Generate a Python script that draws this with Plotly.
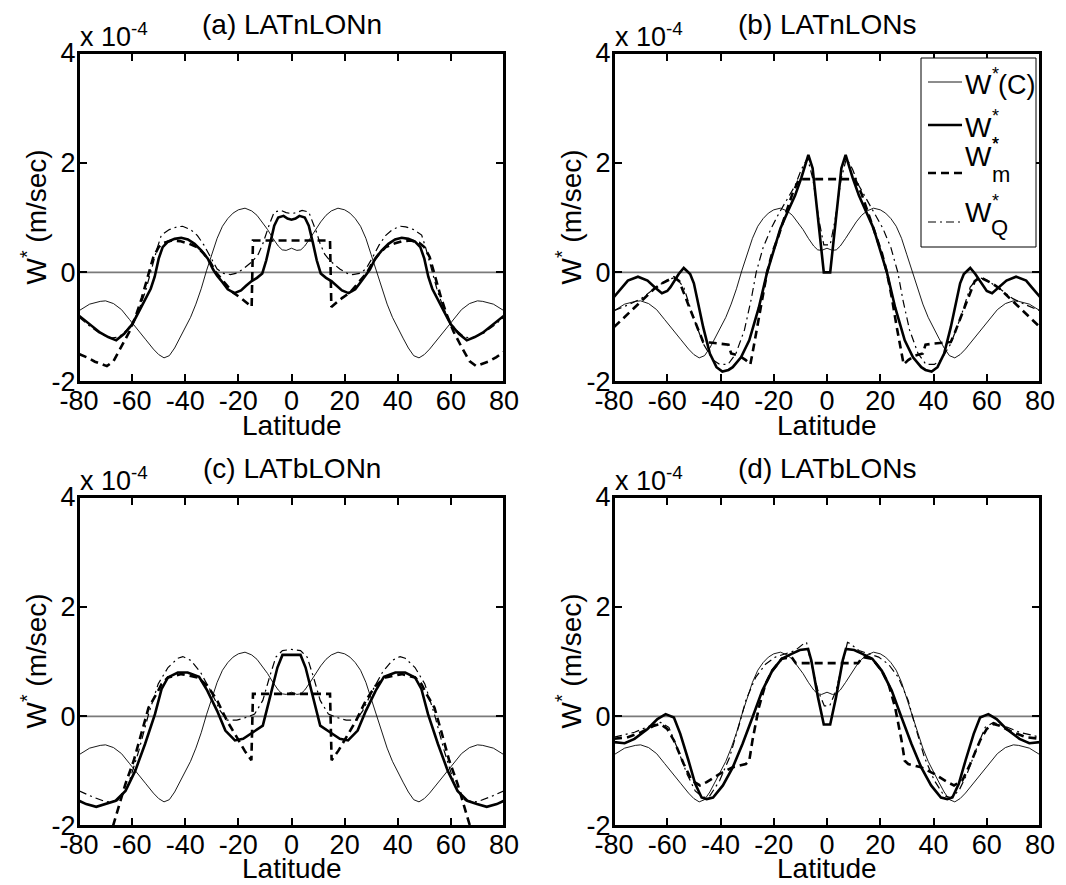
import plotly.graph_objects as go

# ---------------------------------------------------------------- data
# latitude axis ticks
LAT_TICKS = [-80, -60, -40, -20, 0, 20, 40, 60, 80]
LAT_TICK_TEXT = ["-80", "-60", "-40", "-20", "0", "20", "40", "60", "80"]
# vertical velocity ticks (units of 1e-4 m/s)
W_TICKS = [-2, 0, 2, 4]
W_TICK_TEXT = ["-2", "0", "2", "4"]

PANEL_TITLES = ["(a) LATnLONn", "(b) LATnLONs", "(c) LATbLONn", "(d) LATbLONs"]

# W*(C): reference profile, identical in all four experiments
WC_LAT = [-80, -76, -72, -70, -67, -64, -61, -58, -55, -52, -50, -48, -46, -44, -42, -40, -38, -36,
          -34, -32, -30, -28, -26, -24, -22, -20, -17.5, -15, -13, -11, -9, -7, -5, -3.5, -2, 0,
          2, 3.5, 5, 7, 9, 11, 13, 15, 17.5, 20, 22, 24, 26, 28, 30, 32, 34, 36, 38, 40, 42, 44,
          46, 48, 50, 52, 55, 58, 61, 64, 67, 70, 72, 76, 80]
WC_VAL = [-0.70, -0.58, -0.53, -0.52, -0.57, -0.68, -0.86, -1.03, -1.22, -1.40, -1.50, -1.56, -1.52,
          -1.38, -1.20, -1.02, -0.82, -0.58, -0.30, 0.03, 0.32, 0.62, 0.84, 0.98, 1.08, 1.14, 1.17,
          1.12, 1.04, 0.92, 0.78, 0.62, 0.48, 0.41, 0.40, 0.44,
          0.40, 0.41, 0.48, 0.62, 0.78, 0.92, 1.04, 1.12, 1.17, 1.14, 1.08, 0.98, 0.84, 0.62, 0.32,
          0.03, -0.30, -0.58, -0.82, -1.02, -1.20, -1.38, -1.52, -1.56, -1.50, -1.40, -1.22, -1.03,
          -0.86, -0.68, -0.57, -0.52, -0.53, -0.58, -0.70]

# (a) LATnLONn
A_WSTAR_LAT = [-80, -76, -72, -69, -66, -63, -60, -57.5, -55, -53, -51.5, -50, -48.5, -46.5, -44,
               -41.5, -39, -36.5, -34, -31.5, -29.5, -28, -26, -24, -21.5, -19, -17, -15, -13, -11,
               -9.5, -8, -6.5, -5, -3, -1.5, 0,
               1.5, 3, 5, 6.5, 8, 9.5, 11, 13, 15, 17, 19, 21.5, 24, 26, 28, 29.5, 31.5, 34, 36.5,
               39, 41.5, 44, 46.5, 48.5, 50, 51.5, 53, 55, 57.5, 60, 63, 66, 69, 72, 76, 80]
A_WSTAR_VAL = [-0.79, -0.95, -1.10, -1.18, -1.24, -1.12, -0.95, -0.72, -0.50, -0.30, -0.08, 0.25,
               0.46, 0.56, 0.61, 0.63, 0.60, 0.52, 0.40, 0.25, 0.05, -0.06, -0.18, -0.31, -0.38,
               -0.33, -0.24, -0.16, -0.10, -0.02, 0.22, 0.55, 0.85, 1.00, 1.03, 0.98, 0.96,
               0.98, 1.03, 1.00, 0.85, 0.55, 0.22, -0.02, -0.10, -0.16, -0.24, -0.33, -0.38, -0.31,
               -0.18, -0.06, 0.05, 0.25, 0.40, 0.52, 0.60, 0.63, 0.61, 0.56, 0.46, 0.25, -0.08,
               -0.30, -0.50, -0.72, -0.95, -1.12, -1.24, -1.18, -1.10, -0.95, -0.79]
A_WM_LAT = [-80, -77, -74, -71, -69.5, -67, -64, -61, -58.5, -56.3, -54, -52, -50, -48, -45, -42,
            -39, -35.5, -33, -30.5, -28.5, -26.5, -24, -22, -19, -16.5, -15, -14.5,
            14.5, 15, 16.5, 19, 22, 24, 26.5, 28.5, 30.5, 33, 35.5, 39, 42, 45, 48, 50, 52, 54,
            56.3, 58.5, 61, 64, 67, 69.5, 71, 74, 77, 80]
A_WM_VAL = [-1.49, -1.55, -1.63, -1.68, -1.71, -1.62, -1.36, -1.08, -0.78, -0.46, -0.06, 0.28, 0.46,
            0.54, 0.58, 0.57, 0.53, 0.46, 0.34, 0.18, 0.0, -0.12, -0.26, -0.37, -0.47, -0.57,
            -0.63, 0.58,
            0.58, -0.63, -0.57, -0.47, -0.37, -0.26, -0.12, 0.0, 0.18, 0.34, 0.46, 0.53, 0.57,
            0.58, 0.54, 0.46, 0.28, -0.06, -0.46, -0.78, -1.08, -1.36, -1.62, -1.71, -1.68,
            -1.63, -1.55, -1.45]
A_WQ_LAT = [-80, -76, -72, -68, -65, -62, -59.5, -57, -55, -52.6, -50.5, -49, -46, -43, -41, -38,
            -35.4, -33, -30.5, -28, -25.6, -23, -21, -18.2, -14.5, -12.5, -10.8, -9.5, -8.3, -6.5,
            -4, -2, 0,
            2, 4, 6.5, 8.3, 9.5, 10.8, 12.5, 14.5, 18.2, 21, 23, 25.6, 28, 30.5, 33, 35.4, 38,
            41, 43, 46, 49, 50.5, 52.6, 55, 57, 59.5, 62, 65, 68, 72, 76, 80]
A_WQ_VAL = [-0.82, -0.98, -1.12, -1.20, -1.18, -1.05, -0.90, -0.62, -0.35, 0.09, 0.45, 0.68, 0.78,
            0.83, 0.84, 0.78, 0.67, 0.50, 0.27, 0.06, -0.02, -0.04, -0.02, 0.06, 0.21, 0.33, 0.52,
            0.72, 0.88, 1.10, 1.13, 1.09, 1.07,
            1.09, 1.13, 1.10, 0.88, 0.72, 0.52, 0.33, 0.21, 0.06, -0.02, -0.04, -0.02, 0.06, 0.27,
            0.50, 0.67, 0.78, 0.84, 0.83, 0.78, 0.68, 0.45, 0.09, -0.35, -0.62, -0.90, -1.05,
            -1.18, -1.20, -1.12, -0.98, -0.82]

# (b) LATnLONs
B_WSTAR_LAT = [-80, -77, -74.8, -71, -67.4, -64.5, -62, -60, -58.8, -55.7, -53.8, -51.4, -50, -48.9,
               -46.5, -44, -41.5, -39.3, -37, -35.4, -32.3, -29.2, -27.5, -25.6, -22.5, -20, -17.5,
               -14.8, -12, -9.6, -7, -5.4, -1.2,
               1.2, 5.4, 7, 9.6, 12, 14.8, 17.5, 20, 22.5, 25.6, 27.5, 29.2, 32.3, 35.4, 37, 39.3,
               41.5, 44, 46.5, 48.9, 50, 51.4, 53.8, 55.7, 58.8, 60, 62, 64.5, 67.4, 71, 74.8,
               77, 80]
B_WSTAR_VAL = [-0.45, -0.28, -0.15, -0.08, -0.15, -0.28, -0.38, -0.34, -0.27, -0.03, 0.08, -0.03,
               -0.20, -0.45, -1.00, -1.48, -1.73, -1.81, -1.78, -1.73, -1.55, -1.24, -0.95, -0.64,
               0.0, 0.40, 0.80, 1.10, 1.40, 1.73, 2.14, 1.90, 0.0,
               0.0, 1.90, 2.14, 1.73, 1.40, 1.10, 0.80, 0.40, 0.0, -0.64, -0.95, -1.24, -1.55,
               -1.73, -1.78, -1.81, -1.73, -1.48, -1.00, -0.45, -0.20, -0.03, 0.08, -0.03, -0.27,
               -0.34, -0.38, -0.28, -0.15, -0.08, -0.15, -0.28, -0.45]
B_WM_LAT = [-80, -77, -74.8, -72, -69.8, -67, -64.9, -62, -60, -57.5, -55.5, -53.8, -52, -50.2, -48,
            -46.5, -44, -40, -37, -36, -33, -30.5, -28.8, -28, -26.2, -24.3, -22.5, -20.6, -18.5,
            -15.5, -13, -10.5,
            10.5, 13, 15.5, 18.5, 20.6, 22.5, 24.3, 26.2, 28, 28.8, 30.5, 33, 36, 37, 40, 44,
            46.5, 48, 50.2, 52, 53.8, 55.5, 57.5, 60, 62, 64.9, 67, 69.8, 72, 74.8, 77, 80]
B_WM_VAL = [-1.0, -0.86, -0.76, -0.62, -0.52, -0.40, -0.30, -0.20, -0.15, -0.09, -0.16, -0.39, -0.60,
            -0.82, -1.10, -1.27, -1.28, -1.30, -1.32, -1.48, -1.52, -1.60, -1.68, -1.48, -1.0,
            -0.45, 0.0, 0.35, 0.62, 1.07, 1.43, 1.70,
            1.70, 1.43, 1.07, 0.62, 0.35, 0.0, -0.45, -1.0, -1.48, -1.68, -1.60, -1.52, -1.48,
            -1.32, -1.30, -1.28, -1.27, -1.10, -0.82, -0.60, -0.39, -0.16, -0.09, -0.15, -0.20,
            -0.30, -0.40, -0.52, -0.62, -0.76, -0.86, -1.0]
B_WQ_LAT = [-80, -75, -69.8, -64.9, -60, -56.9, -53.8, -50.2, -46.5, -42.8, -40.3, -37.2, -34.2, -31,
            -28.5, -26.6, -24, -21, -18, -14.5, -12, -9.6, -7.3, -5.3, -3, -1.2, 0,
            1.2, 3, 5.3, 7.3, 9.6, 12, 14.5, 18, 21, 24, 26.6, 28.5, 31, 34.2, 37.2, 40.3, 42.8,
            46.5, 50.2, 53.8, 56.9, 60, 64.9, 69.8, 75, 80]
B_WQ_VAL = [-0.70, -0.60, -0.48, -0.30, -0.14, -0.09, -0.27, -0.82, -1.30, -1.60, -1.68, -1.68,
            -1.48, -1.05, -0.50, 0.0, 0.45, 0.80, 1.08, 1.36, 1.58, 1.88, 2.08, 1.70, 0.95, 0.50,
            0.50,
            0.50, 0.95, 1.70, 2.08, 1.88, 1.58, 1.36, 1.08, 0.80, 0.45, 0.0, -0.50, -1.05, -1.48,
            -1.68, -1.68, -1.60, -1.30, -0.82, -0.27, -0.09, -0.14, -0.30, -0.48, -0.60, -0.70]

# (c) LATbLONn
C_WSTAR_LAT = [-80, -77.3, -73.5, -69.8, -66.2, -62.5, -58.8, -55.1, -51.4, -48.9, -46.5, -42.8,
               -39.1, -34.8, -31.7, -28, -24.9, -21.3, -18.2, -14.5, -10.8, -8.4, -5.3, -3.4, 0,
               3.4, 5.3, 8.4, 10.8, 14.5, 18.2, 21.3, 24.9, 28, 31.7, 34.8, 39.1, 42.8, 46.5,
               48.9, 51.4, 55.1, 58.8, 62.5, 66.2, 69.8, 73.5, 77.3, 80]
C_WSTAR_VAL = [-1.54, -1.60, -1.65, -1.60, -1.54, -1.36, -0.99, -0.50, 0.04, 0.50, 0.71, 0.80, 0.80,
               0.72, 0.47, 0.10, -0.26, -0.44, -0.41, -0.29, -0.17, 0.29, 0.89, 1.12, 1.12,
               1.12, 0.89, 0.29, -0.17, -0.29, -0.41, -0.44, -0.26, 0.10, 0.47, 0.72, 0.80, 0.80,
               0.71, 0.50, 0.04, -0.50, -0.99, -1.36, -1.54, -1.60, -1.65, -1.60, -1.54]
C_WM_LAT = [-67.2, -64.9, -62.5, -59.4, -56.3, -53.8, -50.8, -48.9, -46.5, -41.5, -35.4, -31.7, -28,
            -24.3, -20.6, -17.6, -15.1, -14.5,
            14.5, 15.1, 17.6, 20.6, 24.3, 28, 31.7, 35.4, 41.5, 46.5, 48.9, 50.8, 53.8, 56.3,
            59.4, 62.5, 64.9, 67.2]
C_WM_VAL = [-2.0, -1.6, -1.23, -0.81, -0.26, 0.16, 0.41, 0.59, 0.71, 0.77, 0.71, 0.56, 0.29, -0.08,
            -0.38, -0.63, -0.80, 0.41,
            0.41, -0.80, -0.63, -0.38, -0.08, 0.29, 0.56, 0.71, 0.77, 0.71, 0.59, 0.41, 0.16,
            -0.26, -0.81, -1.23, -1.6, -2.0]
C_WQ_LAT = [-80, -74.8, -69.8, -65.5, -61.8, -57.5, -53.8, -50.2, -46.5, -42.8, -40.9, -37.9, -34.2,
            -30.5, -26.8, -24.3, -20.6, -17, -13.9, -10.8, -8.3, -5.9, -3.4, 0,
            3.4, 5.9, 8.3, 10.8, 13.9, 17, 20.6, 24.3, 26.8, 30.5, 34.2, 37.9, 40.9, 42.8, 46.5,
            50.2, 53.8, 57.5, 61.8, 65.5, 69.8, 74.8, 80]
C_WQ_VAL = [-1.36, -1.47, -1.56, -1.54, -1.30, -0.63, 0.04, 0.59, 0.89, 1.06, 1.09, 1.02, 0.80, 0.47,
            0.10, -0.07, -0.07, -0.02, 0.04, 0.29, 0.71, 1.08, 1.20, 1.22,
            1.20, 1.08, 0.71, 0.29, 0.04, -0.02, -0.07, -0.07, 0.10, 0.47, 0.80, 1.02, 1.09,
            1.06, 0.89, 0.59, 0.04, -0.63, -1.30, -1.54, -1.56, -1.47, -1.36]

# (d) LATbLONs
D_WSTAR_LAT = [-80, -76, -72.3, -67.4, -63.7, -60.6, -57.5, -55.1, -52, -49.5, -47.1, -45.2, -42.8,
               -39.1, -35.4, -31.7, -28, -24.3, -20.6, -17, -13.3, -10.2, -7.1, -5.9, -3.4, -1.2, 0,
               1.2, 3.4, 5.9, 7.1, 10.2, 13.3, 17, 20.6, 24.3, 28, 31.7, 35.4, 39.1, 42.8, 45.2,
               47.1, 49.5, 52, 55.1, 57.5, 60.6, 63.7, 67.4, 72.3, 76, 80]
D_WSTAR_VAL = [-0.47, -0.49, -0.41, -0.23, -0.05, 0.04, -0.02, -0.32, -0.81, -1.23, -1.48, -1.51,
               -1.48, -1.26, -0.93, -0.50, -0.02, 0.47, 0.83, 1.05, 1.14, 1.21, 1.23, 1.02, 0.35,
               -0.15, -0.15,
               -0.15, 0.35, 1.02, 1.23, 1.21, 1.14, 1.05, 0.83, 0.47, -0.02, -0.50, -0.93, -1.26,
               -1.48, -1.51, -1.48, -1.23, -0.81, -0.32, -0.02, 0.04, -0.05, -0.23, -0.41, -0.49,
               -0.47]
D_WM_LAT = [-80, -74.8, -69.8, -64.9, -62.5, -60, -57.5, -53.8, -50.8, -47.7, -45.2, -40.3, -35.4,
            -30.5, -29.2, -28, -25.6, -23.1, -20.6, -17, -13.3, -11.7,
            11.7, 13.3, 17, 20.6, 23.1, 25.6, 28, 29.2, 30.5, 35.4, 40.3, 45.2, 47.7, 50.8, 53.8,
            57.5, 60, 62.5, 64.9, 69.8, 74.8, 80]
D_WM_VAL = [-0.41, -0.38, -0.29, -0.17, -0.14, -0.23, -0.44, -0.87, -1.17, -1.26, -1.20, -1.05, -0.93,
            -0.87, -0.81, -0.44, 0.16, 0.59, 0.83, 1.05, 1.08, 0.97,
            0.97, 1.08, 1.05, 0.83, 0.59, 0.16, -0.44, -0.81, -0.87, -0.93, -1.05, -1.20, -1.26,
            -1.17, -0.87, -0.44, -0.23, -0.14, -0.17, -0.29, -0.38, -0.41]
D_WQ_LAT = [-80, -72.3, -66.2, -62.5, -59.4, -56.3, -52.6, -49.5, -46.5, -44, -40.3, -36.6, -32.9,
            -30.5, -26.8, -23.1, -19.4, -15.7, -12, -8.9, -7.7, -6.5, -3.4, -1, 0,
            1, 3.4, 6.5, 7.7, 8.9, 12, 15.7, 19.4, 23.1, 26.8, 30.5, 32.9, 36.6, 40.3, 44, 46.5,
            49.5, 52.6, 56.3, 59.4, 62.5, 66.2, 72.3, 80]
D_WQ_VAL = [-0.38, -0.29, -0.17, -0.11, -0.20, -0.57, -1.05, -1.36, -1.48, -1.45, -1.17, -0.75, -0.14,
            0.29, 0.71, 0.95, 1.08, 1.14, 1.20, 1.32, 1.35, 1.08, 0.47, 0.19, 0.19,
            0.19, 0.47, 1.08, 1.35, 1.32, 1.20, 1.14, 1.08, 0.95, 0.71, 0.29, -0.14, -0.75, -1.17,
            -1.45, -1.48, -1.36, -1.05, -0.57, -0.20, -0.11, -0.17, -0.29, -0.38]

PANELS = [
    (A_WSTAR_LAT, A_WSTAR_VAL, A_WM_LAT, A_WM_VAL, A_WQ_LAT, A_WQ_VAL),
    (B_WSTAR_LAT, B_WSTAR_VAL, B_WM_LAT, B_WM_VAL, B_WQ_LAT, B_WQ_VAL),
    (C_WSTAR_LAT, C_WSTAR_VAL, C_WM_LAT, C_WM_VAL, C_WQ_LAT, C_WQ_VAL),
    (D_WSTAR_LAT, D_WSTAR_VAL, D_WM_LAT, D_WM_VAL, D_WQ_LAT, D_WQ_VAL),
]

# ---------------------------------------------------------------- layout helpers
FIG_W, FIG_H = 1066, 885
FONT = "Liberation Sans, Arial, Helvetica, sans-serif"
INK = "black"


def px(x):
    return x / FIG_W


def py(y):
    return 1 - y / FIG_H


# axes boxes in pixels: left, top, right, bottom
BOXES = [(79, 53, 504, 382), (614, 53, 1040, 382), (79, 497, 504, 826), (614, 497, 1040, 826)]
XLABEL_Y = [426, 426, 868, 868]

LINE_C = dict(color=INK, width=0.9)
LINE_STAR = dict(color=INK, width=2.6)
LINE_M = dict(color=INK, width=2.6, dash="8px,5px")
LINE_Q = dict(color=INK, width=1.2, dash="8px,4px,2px,4px")

fig = go.Figure()
annotations = []
shapes = []

for i, (box, title, series) in enumerate(zip(BOXES, PANEL_TITLES, PANELS)):
    n = "" if i == 0 else str(i + 1)
    l, t, r, b = box
    s_lat, s_val, m_lat, m_val, q_lat, q_val = series
    for lat, val, style in [(WC_LAT, WC_VAL, LINE_C), (q_lat, q_val, LINE_Q),
                            (m_lat, m_val, LINE_M), (s_lat, s_val, LINE_STAR)]:
        assert len(lat) == len(val)
        fig.add_trace(go.Scatter(x=lat, y=val, mode="lines", line=style,
                                 xaxis="x" + n, yaxis="y" + n,
                                 showlegend=False, hoverinfo="skip"))

    common = dict(ticks="inside", ticklen=8, tickwidth=1.5, tickcolor=INK,
                  showline=True, linecolor=INK, linewidth=2, mirror="allticks",
                  showgrid=False, tickmode="array",
                  tickfont=dict(family=FONT, size=27, color=INK))
    fig.update_layout(**{
        "xaxis" + n: dict(domain=[px(l), px(r)], anchor="y" + n, range=[-80, 80],
                          tickvals=LAT_TICKS, ticktext=LAT_TICK_TEXT, zeroline=False,
                          ticklabelstandoff=-6, **common),
        "yaxis" + n: dict(domain=[py(b), py(t)], anchor="x" + n, range=[-2, 4],
                          tickvals=W_TICKS, ticktext=W_TICK_TEXT, zeroline=False,
                          ticklabelstandoff=-4, **common),
    })

    # horizontal reference line at W = 0
    shapes.append(dict(type="line", xref="x" + n, yref="y" + n, x0=-80, x1=80, y0=0, y1=0,
                       layer="below", line=dict(color="#7a7a7a", width=1.6)))
    # axes frame drawn over the curves
    shapes.append(dict(type="rect", xref="paper", yref="paper", layer="above",
                       x0=px(l), x1=px(r), y0=py(b), y1=py(t),
                       line=dict(color=INK, width=2)))

    cx = (l + r) / 2
    annotations += [
        dict(text=title, x=px(cx), y=py(t - 29), xanchor="center", yanchor="middle",
             font=dict(size=28)),
        dict(text="x 10<sup>-4</sup>", x=px(l - 1), y=py(t + 1), xanchor="left",
             yanchor="bottom", font=dict(size=27)),
        dict(text="W<sup>*</sup> (m/sec)", textangle=-90, x=px(l - 45), y=py((t + b) / 2),
             xanchor="center", yanchor="middle", font=dict(size=28)),
        dict(text="Latitude", x=px(cx), y=py(XLABEL_Y[i]), xanchor="center",
             yanchor="middle", font=dict(size=28)),
    ]

# ---------------------------------------------------------------- legend box in panel (b)
shapes.append(dict(type="rect", xref="paper", yref="paper", layer="above",
                   x0=px(921), x1=px(1036), y0=py(247), y1=py(58),
                   line=dict(color=INK, width=1), fillcolor="white"))
for y, style in [(82, LINE_C), (125, LINE_STAR), (173, LINE_M), (222, LINE_Q)]:
    shapes.append(dict(type="line", xref="paper", yref="paper", layer="above",
                       x0=px(928), x1=px(962), y0=py(y), y1=py(y), line=style))

legend_text = [
    ("W", 963, 84, 28), ("(C)", 996, 85, 27),
    ("W", 963, 127, 28), ("W", 963, 157, 28), ("W", 963, 212, 28),
    ("*", 990, 74, 18), ("*", 990, 116, 18), ("*", 990, 144, 18), ("*", 990, 144, 18),
    ("*", 990, 201, 18),
    ("m", 990, 174, 22), ("Q", 989, 227, 22),
]
for txt, x, y, size in legend_text:
    annotations.append(dict(text=txt, x=px(x), y=py(y), xanchor="left", yanchor="middle",
                            font=dict(size=size)))

for a in annotations:
    a.update(xref="paper", yref="paper", showarrow=False)
    a["font"] = dict(family=FONT, color=INK, **a["font"])

fig.update_layout(
    template="none",
    width=FIG_W, height=FIG_H, autosize=False,
    margin=dict(l=0, r=0, t=0, b=0, pad=0),
    paper_bgcolor="white", plot_bgcolor="white",
    font=dict(family=FONT, color=INK),
    annotations=annotations, shapes=shapes, showlegend=False,
)

fig.write_html("out.html")
